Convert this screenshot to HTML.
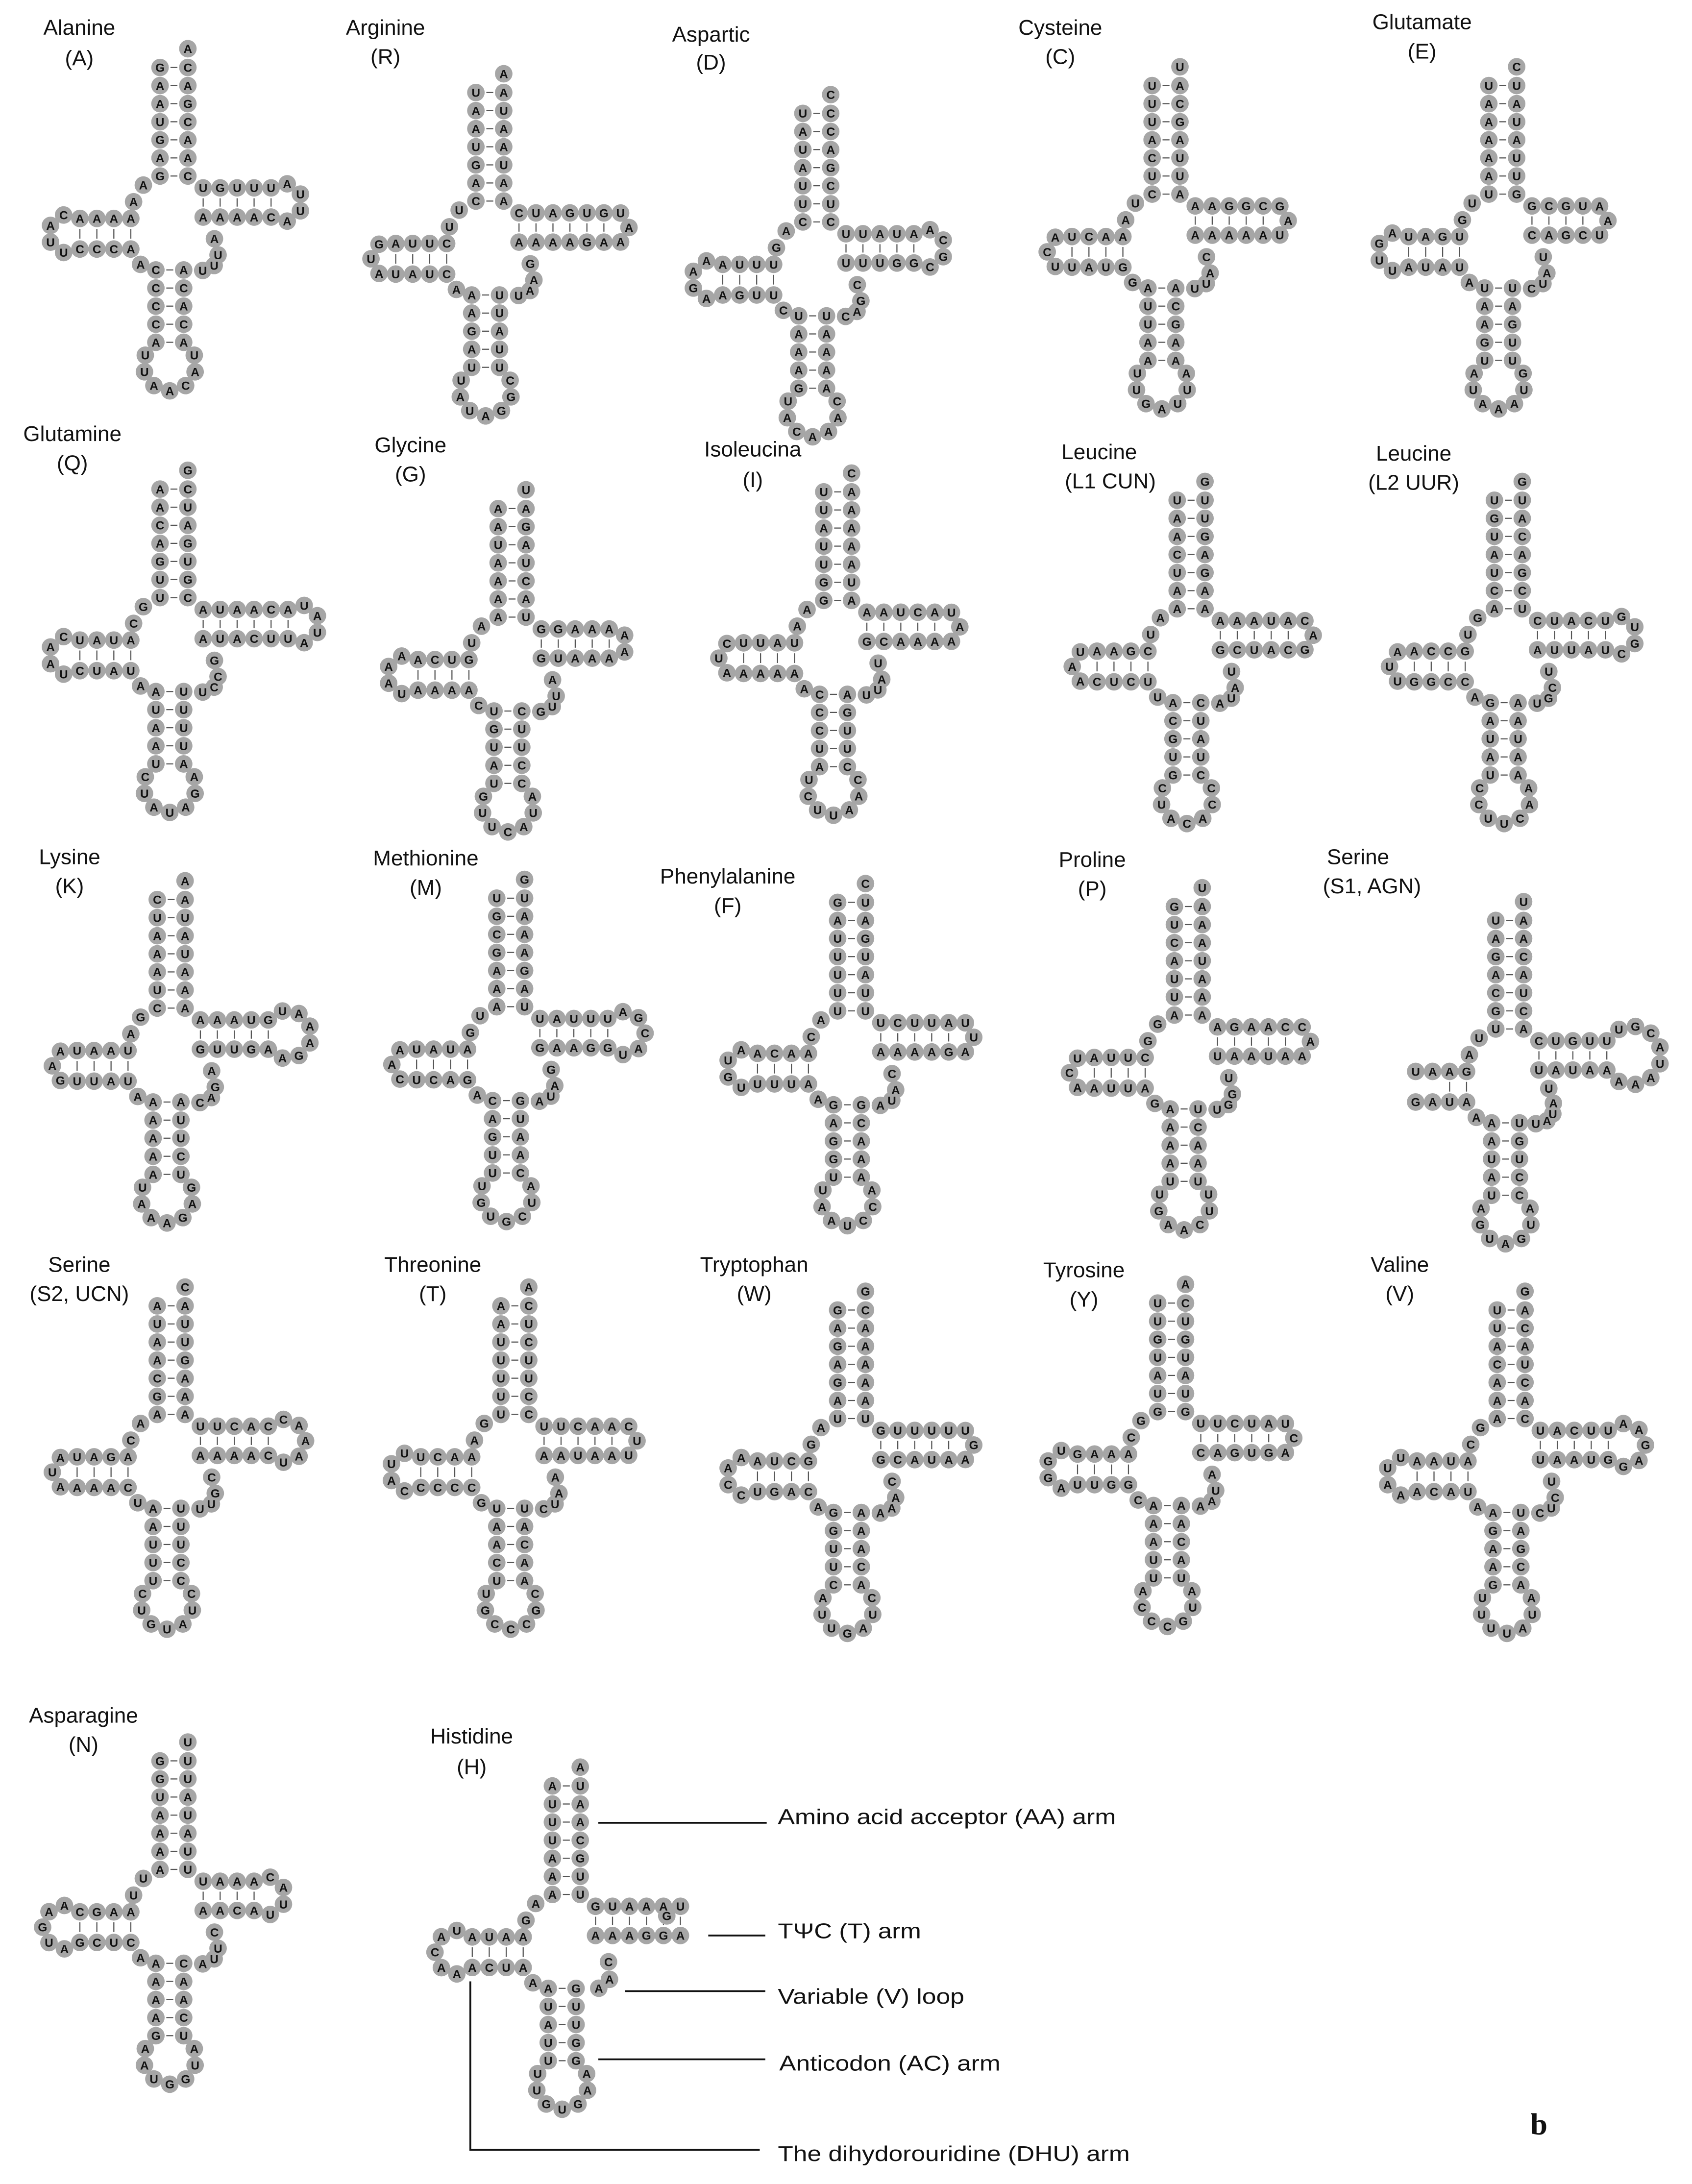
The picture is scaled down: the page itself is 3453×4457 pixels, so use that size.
<!DOCTYPE html>
<html><head><meta charset="utf-8">
<style>
html,body{margin:0;padding:0;background:#fff;}
svg{display:block;}
.lb{font-family:"Liberation Sans",sans-serif;font-size:15.5px;fill:#111;text-anchor:middle;}
.an{font-family:"Liberation Sans",sans-serif;font-size:15.5px;fill:#111;}
.n{font-family:"Liberation Sans",sans-serif;font-size:8.6px;font-weight:bold;fill:#111;text-anchor:middle;}
</style></head>
<body>
<svg id="s" xmlns="http://www.w3.org/2000/svg" width="3453" height="4457" viewBox="0 0 1216 1569.6">
<rect x="0" y="0" width="1216" height="1570" fill="#fff"/>
<g id="nts"></g>
<g id="labels">
<text class="lb" x="57" y="25">Alanine</text><text class="lb" x="57" y="47">(A)</text>
<text class="lb" x="277" y="25">Arginine</text><text class="lb" x="277" y="46">(R)</text>
<text class="lb" x="511" y="30">Aspartic</text><text class="lb" x="511" y="50">(D)</text>
<text class="lb" x="762" y="25">Cysteine</text><text class="lb" x="762" y="46">(C)</text>
<text class="lb" x="1022" y="21">Glutamate</text><text class="lb" x="1022" y="42">(E)</text>

<text class="lb" x="52" y="317">Glutamine</text><text class="lb" x="52" y="338">(Q)</text>
<text class="lb" x="295" y="325">Glycine</text><text class="lb" x="295" y="346">(G)</text>
<text class="lb" x="541" y="328">Isoleucina</text><text class="lb" x="541" y="350">(I)</text>
<text class="lb" x="790" y="330">Leucine</text><text class="lb" x="798" y="351">(L1 CUN)</text>
<text class="lb" x="1016" y="331">Leucine</text><text class="lb" x="1016" y="352">(L2 UUR)</text>

<text class="lb" x="50" y="621">Lysine</text><text class="lb" x="50" y="642">(K)</text>
<text class="lb" x="306" y="622">Methionine</text><text class="lb" x="306" y="643">(M)</text>
<text class="lb" x="523" y="635">Phenylalanine</text><text class="lb" x="523" y="656">(F)</text>
<text class="lb" x="785" y="623">Proline</text><text class="lb" x="785" y="644">(P)</text>
<text class="lb" x="976" y="621">Serine</text><text class="lb" x="986" y="642">(S1, AGN)</text>

<text class="lb" x="57" y="914">Serine</text><text class="lb" x="57" y="935">(S2, UCN)</text>
<text class="lb" x="311" y="914">Threonine</text><text class="lb" x="311" y="935">(T)</text>
<text class="lb" x="542" y="914">Tryptophan</text><text class="lb" x="542" y="935">(W)</text>
<text class="lb" x="779" y="918">Tyrosine</text><text class="lb" x="779" y="939">(Y)</text>
<text class="lb" x="1006" y="914">Valine</text><text class="lb" x="1006" y="935">(V)</text>

<text class="lb" x="60" y="1238">Asparagine</text><text class="lb" x="60" y="1259">(N)</text>
<text class="lb" x="339" y="1253">Histidine</text><text class="lb" x="339" y="1275">(H)</text>
</g>
<g stroke="#111" stroke-width="1.3" fill="none">
<line x1="430" y1="1310" x2="551" y2="1310"/>
<line x1="509" y1="1391" x2="550" y2="1391"/>
<line x1="449" y1="1431" x2="550" y2="1431"/>
<line x1="430" y1="1480" x2="550" y2="1480"/>
<polyline points="338,1424 338,1545 546,1545"/>
</g>
<text class="an" x="559" y="1311" textLength="243" lengthAdjust="spacingAndGlyphs">Amino acid acceptor (AA) arm</text>
<text class="an" x="559" y="1393" textLength="103" lengthAdjust="spacingAndGlyphs">TΨC  (T) arm</text>
<text class="an" x="559" y="1440" textLength="134" lengthAdjust="spacingAndGlyphs">Variable  (V) loop</text>
<text class="an" x="560" y="1488" textLength="159" lengthAdjust="spacingAndGlyphs">Anticodon (AC) arm</text>
<text class="an" x="559" y="1553" textLength="253" lengthAdjust="spacingAndGlyphs">The dihydorouridine  (DHU) arm</text>
<text x="1106" y="1534" style="font-family:'Liberation Serif',serif;font-size:22px;font-weight:bold;fill:#111;text-anchor:middle">b</text>
</svg>
<script>
(function(){
var NS='http://www.w3.org/2000/svg';
var g=document.getElementById('nts');
var RAD=6.3;
var seed=12345;
function rnd(){seed=(seed*16807)%2147483647;return seed/2147483647;}
function L(){var r=rnd();return r<0.4?'A':r<0.72?'U':r<0.86?'G':'C';}
var circ=[],txt=[],lines=[];
function nt(x,y,ch){circ.push([x,y]);txt.push([x,y,ch||L()]);}
function pl(x1,y1,x2,y2){var dx=x2-x1,dy=y2-y1,d=Math.sqrt(dx*dx+dy*dy);var ux=dx/d,uy=dy/d,o=RAD+1.2;
 if(d>2*o+1)lines.push([x1+ux*o,y1+uy*o,x2-ux*o,y2-uy*o]);}
function loop(A,B,n,out){
 var s=12,dx=B[0]-A[0],dy=B[1]-A[1],c=Math.sqrt(dx*dx+dy*dy);
 function f(R){return (n+1)*2*Math.asin(Math.min(1,s/(2*R)))+2*Math.asin(Math.min(1,c/(2*R)))-2*Math.PI;}
 var lo=Math.max(s,c)/2+1e-6,hi=500;
 for(var i=0;i<80;i++){var m=(lo+hi)/2;if(f(m)>0)lo=m;else hi=m;}
 var R=(lo+hi)/2;
 var mx=(A[0]+B[0])/2,my=(A[1]+B[1])/2;
 var px=-dy/c,py=dx/c; if(px*out[0]+py*out[1]<0){px=-px;py=-py;}
 var h=Math.sqrt(Math.max(0,R*R-c*c/4));
 var cx=mx+px*h,cy=my+py*h;
 var th=2*Math.asin(Math.min(1,s/(2*R)));
 var aA=Math.atan2(A[1]-cy,A[0]-cx),aB=Math.atan2(B[1]-cy,B[0]-cx);
 function wr(a){while(a>Math.PI)a-=2*Math.PI;while(a<-Math.PI)a+=2*Math.PI;return Math.abs(a);}
 var sg=wr(aA+(n+1)*th-aB)<wr(aA-(n+1)*th-aB)?1:-1;
 for(var k=1;k<=n;k++){var a=aA+sg*k*th;nt(cx+R*Math.cos(a),cy+R*Math.sin(a));}
}
function T(X,Y,o){
 o=o||{};
 var d=o.d!=null?o.d:4,dl=o.dl!=null?o.dl:4,t=o.t!=null?o.t:5,tl=o.tl!=null?o.tl:4,
     a=o.a!=null?o.a:5,al=o.al!=null?o.al:7,v=o.v!=null?o.v:4,seq=o.seq||'';
 var si=0;function S(){return seq[si++]||undefined;}
 nt(X+20,Y);
 for(var i=0;i<7;i++){var y=Y+13.5+13*i;nt(X,y,S());nt(X+20,y,S());pl(X,y,X+20,y);}
 nt(X-12,Y+98);nt(X-19,Y+110);
 var dx0=X-21,lastX=dx0;
 for(var j=0;j<d;j++){var x=dx0-12.2*j;lastX=x;nt(x,Y+122);nt(x,Y+144);pl(x,Y+122,x,Y+144);}
 if(o.open){for(var j=0;j<2;j++){var x=lastX-12.2*(j+1);nt(x,Y+122);nt(x,Y+144);}}
 else loop([lastX,Y+122],[lastX,Y+144],dl,[-1,0]);
 nt(X-14,Y+155);
 var ly;
 for(var i=0;i<a;i++){ly=Y+159+13*i;nt(X-3,ly);nt(X+17,ly);pl(X-3,ly,X+17,ly);}
 loop([X-3,ly],[X+17,ly],al,[0,1]);
 var P0=[X+17,Y+159],C=[X+58,Y+165],P2=[X+31,Y+121];
 for(var k=1;k<=v;k++){var u=k/(v+1),w=1-u;
  nt(w*w*P0[0]+2*w*u*C[0]+u*u*P2[0],w*w*P0[1]+2*w*u*C[1]+u*u*P2[1]);}
 var tx;
 for(var j=0;j<t;j++){tx=X+31+12.2*j;nt(tx,Y+100);nt(tx,Y+121);pl(tx,Y+100,tx,Y+121);}
 loop([tx,Y+100],[tx,Y+121],tl,[1,0]);
}
// Row 1
T(115,35,{});
T(342,53,{t:6,tl:3,dl:3});
T(577,68,{t:5,tl:4});
T(828,48,{t:5,tl:3,dl:3});
T(1070,48,{t:4,tl:3});
// Row 2
T(115,338,{t:6,tl:4});
T(358,352,{t:5,tl:2,dl:4});
T(592,340,{t:5,tl:3,dl:3});
T(846,346,{t:5,tl:3,dl:3});
T(1074,346,{t:5,tl:4,dl:3});
// Row 3
T(113,633,{t:5,tl:6,dl:3});
T(357,632,{t:5,tl:5,dl:3});
T(602,635,{t:5,tl:3});
T(844,638,{t:5,tl:3,dl:3});
T(1075,648,{d:2,open:true,t:5,tl:8,v:5});
// Row 4
T(113,925,{t:5,tl:5,dl:3});
T(360,925,{t:5,tl:3});
T(602,928,{t:5,tl:3,dl:4});
T(832,923,{t:5,tl:3,dl:4});
T(1076,928,{t:5,tl:5,dl:4});
// Row 5
T(115,1252,{t:4,tl:4,dl:5});
T(397,1270,{t:6,tl:1,dl:5,v:3,seq:'AUUAUAUCAGAUAUAU'});
var h='';
for(var i=0;i<lines.length;i++){var l=lines[i];h+='<line x1="'+l[0].toFixed(1)+'" y1="'+l[1].toFixed(1)+'" x2="'+l[2].toFixed(1)+'" y2="'+l[3].toFixed(1)+'" stroke="#555" stroke-width="0.8"/>';}
for(var i=0;i<circ.length;i++){h+='<circle cx="'+circ[i][0].toFixed(1)+'" cy="'+circ[i][1].toFixed(1)+'" r="'+RAD+'" fill="#a6a6a6"/>';}
for(var i=0;i<txt.length;i++){h+='<text class="n" x="'+txt[i][0].toFixed(1)+'" y="'+(txt[i][1]+3.1).toFixed(1)+'">'+txt[i][2]+'</text>';}
g.innerHTML=h;
})();
</script>
</body></html>
